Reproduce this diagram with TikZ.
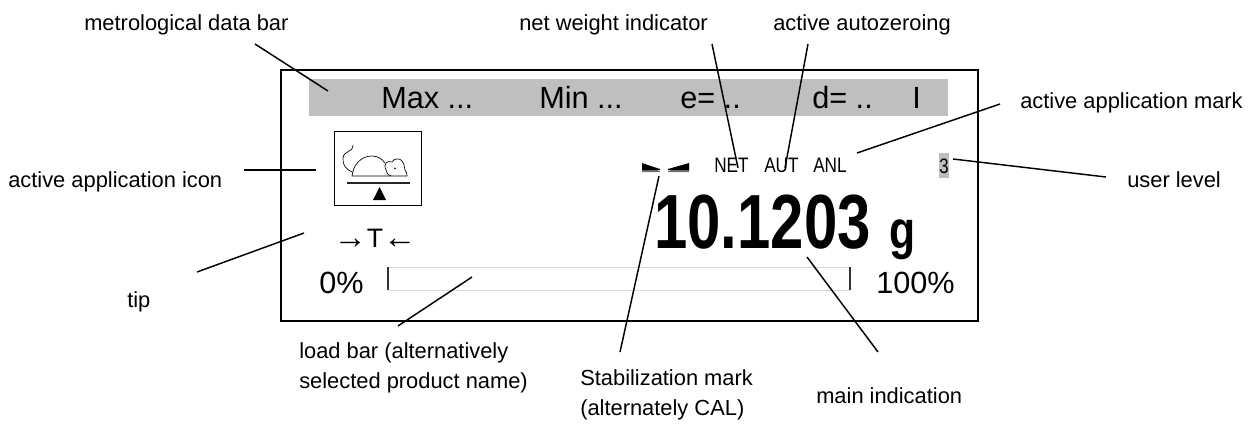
\documentclass[tikz,border=0pt]{standalone}
\usepackage{fontspec}
\setmainfont{Liberation Sans}
\tikzset{
  lbl/.style={inner sep=0pt,align=left,font=\fontsize{16.4}{22.5}\selectfont,text=black},
  big/.style={inner sep=0pt,font=\fontsize{23}{27}\selectfont,text=black},
  mid/.style={inner sep=0pt,font=\fontsize{15.7}{18}\selectfont,text=black},
  conn/.style={draw=black,line width=1.1pt},
  frameb/.style={draw=black,line width=1.6pt},
  thinb/.style={draw=black,line width=0.8pt},
  mouse/.style={draw=black,line width=0.5pt}
}
\begin{document}
\begin{tikzpicture}[x=0.75pt,y=-0.75pt]
\useasboundingbox (0,0) rectangle (1252,426);
\fill[white] (0,0) rectangle (1252,426);
% panel
\node[frameb,minimum width=522.75pt,minimum height=188.25pt,inner sep=0pt,anchor=north west] (panel) at (279.5,68.5) {};
\fill[black!25] (309,79) rectangle (948,116);
\node[big,anchor=base west] (mx) at (381,108) {Max ...};
\node[big,anchor=base west] (mn) at (539,108) {Min ...};
\node[big,anchor=base west] (ee) at (680,108) {e= ..};
\node[big,anchor=base west] (dd) at (812,108) {d= ..};
\node[big,anchor=base west] (ll) at (912,108) {I};
% icon
\node[thinb,minimum width=65.25pt,minimum height=55.5pt,inner sep=0pt,anchor=north west] (icon) at (334,131) {};
\draw[mouse] (352,172) .. controls (347,170) and (342,165) .. (343,158) .. controls (344,150) and (353,153) .. (353,145);
\draw[mouse] (407,176) -- (352,176) .. controls (353,166) and (360,156) .. (372,156) .. controls (378,156) and (382,159) .. (385,163);
\draw[mouse] (386,170) .. controls (383,164) and (387,160) .. (392,162) .. controls (394,158) and (400,158) .. (402,161) .. controls (405,165) and (404,168) .. (405,170) .. controls (407,172) and (407,174) .. (407,176);
\draw[mouse] (386,170) .. controls (387,174) and (389,176) .. (391,176);
\fill[black] (395,168.5) circle (0.9);
\draw[line width=1.3pt,draw=black!85] (347,183) -- (410,183);
\fill[black] (379.5,187) -- (386,200) -- (373,200) -- cycle;
% tare
\node[inner sep=0pt,anchor=base,text=black] (tare) at (375,247) {\fontsize{25}{26}\selectfont\raisebox{-1pt}{→}\fontsize{20}{22}\selectfont T\fontsize{25}{26}\selectfont\raisebox{-1pt}{←}};
% load bar
\node[big,anchor=base west] (zero) at (319,293) {0\%};
\node[big,anchor=base east] (hund) at (955,293) {100\%};
\draw[black!15,line width=0.7pt] (388,267) -- (850,267) (388,290) -- (850,290);
\draw[black!80,line width=0.8pt] (388,267) -- (388,290) (850,267) -- (850,290);
% status
\node[mid,anchor=base west] (net) at (714,172) {\scalebox{0.82}[1]{NET}};
\node[mid,anchor=base west] (aut) at (764,172) {\scalebox{0.82}[1]{AUT}};
\node[mid,anchor=base west] (anl) at (813,172) {\scalebox{0.82}[1]{ANL}};
\fill[black!55] (642,166) -- (660,171) -- (660,172) -- (642,172) -- cycle;
\fill[black] (642,163) -- (660,169) -- (660,170) -- (642,170) -- cycle;
\fill[black!55] (689,166) -- (668,171) -- (668,172) -- (689,172) -- cycle;
\fill[black] (689,163) -- (668,169) -- (668,170) -- (689,170) -- cycle;
\node[inner sep=0pt,fill=black!25,minimum width=7.5pt,minimum height=18.75pt,anchor=center] (lvlbg) at (944,165.5) {};
\node[mid,anchor=base] (lvl) at (944,173) {\scalebox{0.8}[1]{3}};
% main indication
\node[inner sep=0pt,anchor=base west,font=\fontsize{57.6}{60}\selectfont\bfseries,text=black] (main) at (654,248) {\scalebox{0.78}[1]{10.1203}};
\node[inner sep=0pt,anchor=base west,font=\fontsize{40}{44}\selectfont\bfseries,text=black] (unit) at (889,248) {\scalebox{0.8}[1]{g}};
% labels
\node[lbl,anchor=base west] (l1) at (84,30) {metrological data bar};
\node[lbl,anchor=base east] (l2) at (708,30) {net weight indicator};
\node[lbl,anchor=base west] (l3) at (773,30) {active autozeroing};
\node[lbl,anchor=base west] (l4) at (1020,108) {active application mark};
\node[lbl,anchor=base west] (l5) at (8,187) {active application icon};
\node[lbl,anchor=base west] (l6) at (1127,187) {user level};
\node[lbl,anchor=base west] (l7) at (127,307) {tip};
\node[lbl,anchor=north west] (l8) at (299,342) {load bar (alternatively\\selected product name)};
\node[lbl,anchor=north west] (l9) at (580,369) {Stabilization mark\\(alternately CAL)};
\node[lbl,anchor=base west] (l10) at (816,403) {main indication};
% free ends
\coordinate (c1a) at (255,44); \coordinate (c1b) at (328,91);
\coordinate (c2a) at (712,44); \coordinate (c2b) at (738,168);
\coordinate (c3a) at (808,44); \coordinate (c3b) at (785,168);
\coordinate (c4a) at (1000,104); \coordinate (c4b) at (857,153);
\coordinate (c5a) at (953,159); \coordinate (c5b) at (1106,177);
\coordinate (c6a) at (244,170); \coordinate (c6b) at (316,170);
\coordinate (c7a) at (197,272); \coordinate (c7b) at (304,233);
\coordinate (c8a) at (398,326); \coordinate (c8b) at (472,277);
\coordinate (c9a) at (620,352); \coordinate (c9b) at (659,176);
\coordinate (c10a) at (878,352); \coordinate (c10b) at (807,257);
\foreach \n in {1,...,10}{\draw[conn] (c\n a) -- (c\n b);}
\end{tikzpicture}
\end{document}
